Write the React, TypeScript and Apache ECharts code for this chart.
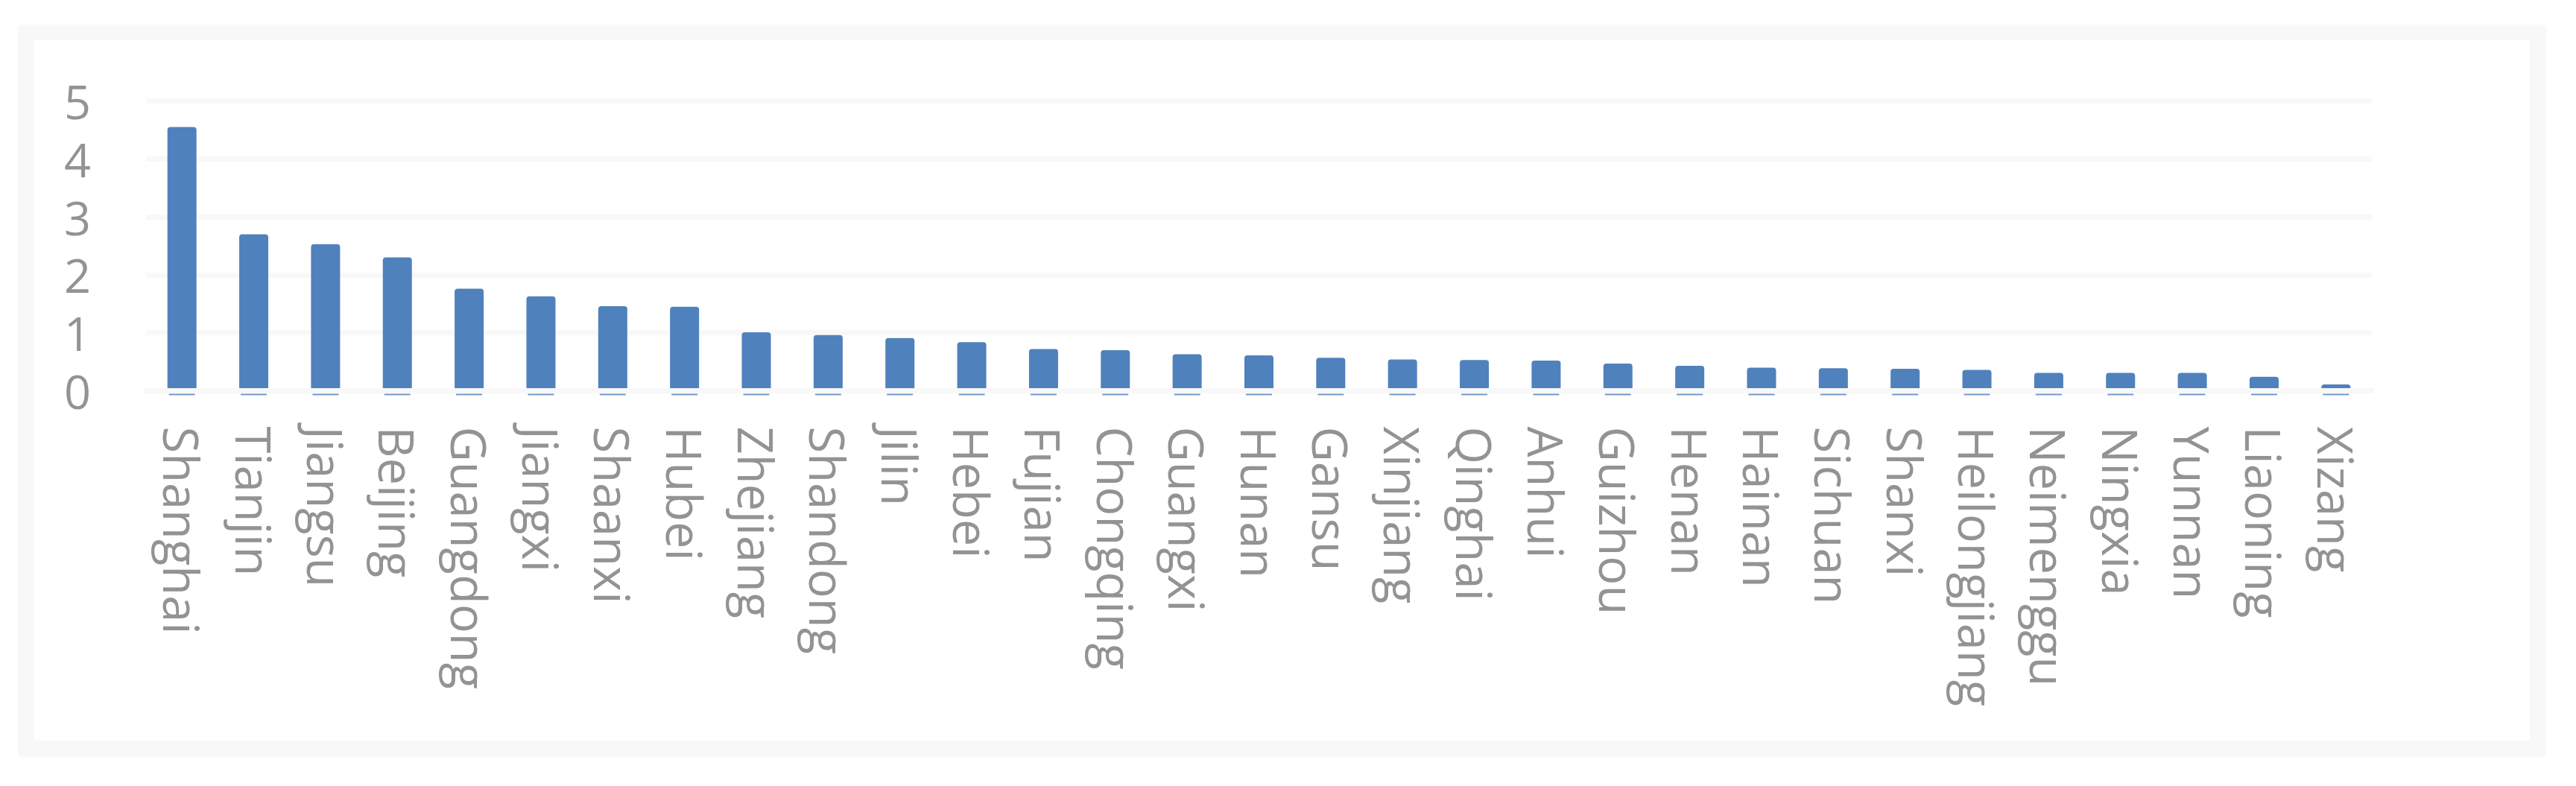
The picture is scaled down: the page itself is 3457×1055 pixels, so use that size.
import React, { useEffect, useRef } from "react";
import * as echarts from "echarts";

const categories: string[] = [
  "Shanghai", "Tianjin", "Jiangsu", "Beijing", "Guangdong", "Jiangxi", "Shaanxi", "Hubei",
  "Zhejiang", "Shandong", "Jilin", "Hebei", "Fujian", "Chongqing", "Guangxi", "Hunan",
  "Gansu", "Xinjiang", "Qinghai", "Anhui", "Guizhou", "Henan", "Hainan", "Sichuan",
  "Shanxi", "Heilongjiang", "Neimenggu", "Ningxia", "Yunnan", "Liaoning", "Xizang",
];

const values: number[] = [
  4.55, 2.70, 2.53, 2.30, 1.76, 1.63, 1.46, 1.45,
  1.01, 0.96, 0.91, 0.84, 0.72, 0.70, 0.63, 0.61,
  0.57, 0.54, 0.53, 0.52, 0.47, 0.43, 0.40, 0.39,
  0.38, 0.36, 0.31, 0.31, 0.31, 0.24, 0.11,
];

// baseline "reflection" marks drawn under each bar (value 0 for every category)
const baseline: number[] = categories.map(() => 0);

const yMin = 0;
const yMax = 5;
const yInterval = 1;

const BLUE = "#4f81bd";
const GRAY_TEXT = "#939393";
const LIGHT = "#f8f8f8";
const FONT = "'Open Sans', 'DejaVu Sans', sans-serif";

export default function App() {
  const ref = useRef<HTMLDivElement>(null);

  useEffect(() => {
    if (!ref.current) return;
    const chart = echarts.init(ref.current, null, { renderer: "svg" });
    chart.setOption({
      animation: false,
      backgroundColor: "#ffffff",
      graphic: [
        {
          type: "rect",
          z: -10,
          silent: true,
          shape: { x: 24, y: 33, width: 3393, height: 983, r: 6 },
          style: { fill: LIGHT },
        },
        {
          type: "rect",
          z: -9,
          silent: true,
          shape: { x: 46, y: 54, width: 3349, height: 940 },
          style: { fill: "#ffffff" },
        },
      ],
      grid: { left: 196, top: 135.5, width: 2987, height: 389, containLabel: false },
      xAxis: {
        type: "category",
        data: categories,
        z: 3,
        axisLine: { show: true, lineStyle: { color: LIGHT, width: 7 } },
        axisTick: { show: false },
        axisLabel: {
          interval: 0,
          rotate: -90,
          margin: 48,
          fontSize: 65,
          lineHeight: 66,
          color: GRAY_TEXT,
          fontFamily: FONT,
        },
        splitLine: { show: false },
      },
      yAxis: {
        type: "value",
        min: yMin,
        max: yMax,
        interval: yInterval,
        axisLine: { show: false },
        axisTick: { show: false },
        axisLabel: {
          margin: 74,
          fontSize: 63,
          lineHeight: 63,
          color: GRAY_TEXT,
          fontFamily: FONT,
        },
        splitLine: { show: true, lineStyle: { color: LIGHT, width: 7 } },
      },
      series: [
        {
          type: "bar",
          data: values,
          barWidth: 39,
          z: 2,
          itemStyle: { color: BLUE, borderRadius: [4, 4, 0, 0] },
        },
        {
          type: "scatter",
          data: baseline,
          z: 5,
          symbol: "rect",
          symbolSize: [35, 2],
          symbolOffset: [0, 5],
          itemStyle: { color: BLUE },
          silent: true,
        },
      ],
    });
    return () => chart.dispose();
  }, []);

  return (
    <div
      ref={ref}
      style={{ position: "fixed", left: 0, top: 0, width: 3457, height: 1055 }}
    />
  );
}
